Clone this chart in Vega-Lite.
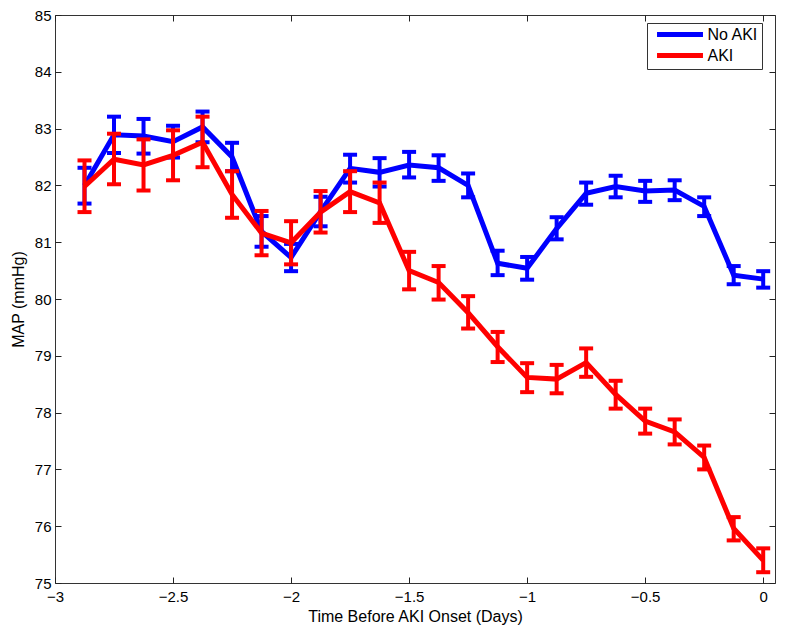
{
  "$schema": "https://vega.github.io/schema/vega-lite/v6.json",
  "width": 720,
  "height": 568,
  "autosize": {"type": "none"},
  "padding": {"left": 55, "top": 15, "right": 10, "bottom": 52},
  "background": "white",
  "config": {
    "font": "Liberation Sans",
    "view": {"stroke": "#333333", "strokeWidth": 1},
    "axis": {
      "grid": false,
      "domain": false,
      "ticks": true,
      "tickColor": "#222222",
      "tickWidth": 1,
      "labelColor": "#000000",
      "labelFontSize": 15,
      "titleFontSize": 16,
      "titleFontWeight": "normal",
      "titleColor": "#000000",
      "labelFont": "Liberation Sans",
      "titleFont": "Liberation Sans",
      "labelFlush": false
    }
  },
  "data": {
    "values": [
      {"t": -2.875, "group": "No AKI", "mean": 82.0, "lo": 81.68, "hi": 82.31},
      {"t": -2.75, "group": "No AKI", "mean": 82.89, "lo": 82.57, "hi": 83.21},
      {"t": -2.625, "group": "No AKI", "mean": 82.87, "lo": 82.56, "hi": 83.17},
      {"t": -2.5, "group": "No AKI", "mean": 82.77, "lo": 82.49, "hi": 83.05},
      {"t": -2.375, "group": "No AKI", "mean": 83.03, "lo": 82.76, "hi": 83.3},
      {"t": -2.25, "group": "No AKI", "mean": 82.5, "lo": 82.25, "hi": 82.75},
      {"t": -2.125, "group": "No AKI", "mean": 81.19, "lo": 80.92, "hi": 81.46},
      {"t": -2.0, "group": "No AKI", "mean": 80.73, "lo": 80.49, "hi": 80.97},
      {"t": -1.875, "group": "No AKI", "mean": 81.54, "lo": 81.28, "hi": 81.8},
      {"t": -1.75, "group": "No AKI", "mean": 82.3, "lo": 82.05, "hi": 82.54},
      {"t": -1.625, "group": "No AKI", "mean": 82.23, "lo": 81.98, "hi": 82.48},
      {"t": -1.5, "group": "No AKI", "mean": 82.36, "lo": 82.14, "hi": 82.59},
      {"t": -1.375, "group": "No AKI", "mean": 82.31, "lo": 82.08, "hi": 82.53},
      {"t": -1.25, "group": "No AKI", "mean": 82.0, "lo": 81.79, "hi": 82.21},
      {"t": -1.125, "group": "No AKI", "mean": 80.63, "lo": 80.42, "hi": 80.85},
      {"t": -1.0, "group": "No AKI", "mean": 80.54, "lo": 80.34, "hi": 80.74},
      {"t": -0.875, "group": "No AKI", "mean": 81.24, "lo": 81.05, "hi": 81.44},
      {"t": -0.75, "group": "No AKI", "mean": 81.86, "lo": 81.66, "hi": 82.05},
      {"t": -0.625, "group": "No AKI", "mean": 81.98, "lo": 81.79, "hi": 82.17},
      {"t": -0.5, "group": "No AKI", "mean": 81.9, "lo": 81.71, "hi": 82.08},
      {"t": -0.375, "group": "No AKI", "mean": 81.92, "lo": 81.74, "hi": 82.09},
      {"t": -0.25, "group": "No AKI", "mean": 81.63, "lo": 81.46, "hi": 81.79},
      {"t": -0.125, "group": "No AKI", "mean": 80.42, "lo": 80.26, "hi": 80.58},
      {"t": 0.0, "group": "No AKI", "mean": 80.35, "lo": 80.2, "hi": 80.49},
      {"t": -2.875, "group": "AKI", "mean": 81.98, "lo": 81.53, "hi": 82.44},
      {"t": -2.75, "group": "AKI", "mean": 82.46, "lo": 82.02, "hi": 82.91},
      {"t": -2.625, "group": "AKI", "mean": 82.36, "lo": 81.91, "hi": 82.81},
      {"t": -2.5, "group": "AKI", "mean": 82.53, "lo": 82.09, "hi": 82.97},
      {"t": -2.375, "group": "AKI", "mean": 82.76, "lo": 82.32, "hi": 83.21},
      {"t": -2.25, "group": "AKI", "mean": 81.84, "lo": 81.43, "hi": 82.25},
      {"t": -2.125, "group": "AKI", "mean": 81.16, "lo": 80.77, "hi": 81.55},
      {"t": -2.0, "group": "AKI", "mean": 80.99, "lo": 80.61, "hi": 81.37},
      {"t": -1.875, "group": "AKI", "mean": 81.53, "lo": 81.17, "hi": 81.9},
      {"t": -1.75, "group": "AKI", "mean": 81.89, "lo": 81.53, "hi": 82.25},
      {"t": -1.625, "group": "AKI", "mean": 81.69, "lo": 81.34, "hi": 82.05},
      {"t": -1.5, "group": "AKI", "mean": 80.5, "lo": 80.17, "hi": 80.83},
      {"t": -1.375, "group": "AKI", "mean": 80.29, "lo": 79.99, "hi": 80.58},
      {"t": -1.25, "group": "AKI", "mean": 79.76, "lo": 79.48, "hi": 80.05},
      {"t": -1.125, "group": "AKI", "mean": 79.16, "lo": 78.89, "hi": 79.42},
      {"t": -1.0, "group": "AKI", "mean": 78.62, "lo": 78.36, "hi": 78.87},
      {"t": -0.875, "group": "AKI", "mean": 78.59, "lo": 78.34, "hi": 78.84},
      {"t": -0.75, "group": "AKI", "mean": 78.88, "lo": 78.63, "hi": 79.13},
      {"t": -0.625, "group": "AKI", "mean": 78.32, "lo": 78.07, "hi": 78.56},
      {"t": -0.5, "group": "AKI", "mean": 77.85, "lo": 77.63, "hi": 78.07},
      {"t": -0.375, "group": "AKI", "mean": 77.66, "lo": 77.44, "hi": 77.88},
      {"t": -0.25, "group": "AKI", "mean": 77.21, "lo": 77.0, "hi": 77.42},
      {"t": -0.125, "group": "AKI", "mean": 75.96, "lo": 75.75, "hi": 76.16},
      {"t": 0.0, "group": "AKI", "mean": 75.4, "lo": 75.19, "hi": 75.61}
    ]
  },
  "resolve": {"axis": {"x": "independent", "y": "independent"}},
  "layer": [
    {
      "mark": {"type": "point", "opacity": 0},
      "encoding": {
        "x": {"field": "t", "type": "quantitative", "scale": {"domain": [-3, 0.05], "nice": false, "zero": false},
              "axis": {"orient": "bottom", "values": [-3, -2.5, -2, -1.5, -1, -0.5, 0], "format": "~g", "title": "Time Before AKI Onset (Days)", "tickSize": -6, "labelPadding": 12, "titlePadding": 4}},
        "y": {"field": "mean", "type": "quantitative", "scale": {"domain": [75, 85], "nice": false, "zero": false},
              "axis": {"orient": "left", "values": [75, 76, 77, 78, 79, 80, 81, 82, 83, 84, 85], "format": "d", "title": "MAP (mmHg)", "tickSize": -6, "labelPadding": 10, "titlePadding": 8}}
      }
    },
    {
      "mark": {"type": "point", "opacity": 0},
      "encoding": {
        "x": {"field": "t", "type": "quantitative", "axis": {"orient": "top", "values": [-3, -2.5, -2, -1.5, -1, -0.5, 0], "labels": false, "title": null, "tickSize": -6}},
        "y": {"field": "mean", "type": "quantitative", "axis": {"orient": "right", "values": [75, 76, 77, 78, 79, 80, 81, 82, 83, 84, 85], "labels": false, "title": null, "tickSize": -6}}
      }
    },
    {
      "transform": [{"filter": "datum.group === 'No AKI'"}],
      "mark": {"type": "errorbar", "color": "#0000ff", "opacity": 1, "thickness": 4, "ticks": {"size": 14, "thickness": 4, "color": "#0000ff", "opacity": 1}, "rule": {"opacity": 1, "strokeWidth": 4}},
      "encoding": {
        "x": {"field": "t", "type": "quantitative", "axis": null},
        "y": {"field": "lo", "type": "quantitative", "axis": null},
        "y2": {"field": "hi"}
      }
    },
    {
      "transform": [{"filter": "datum.group === 'No AKI'"}],
      "mark": {"type": "line", "strokeWidth": 5},
      "encoding": {
        "x": {"field": "t", "type": "quantitative", "axis": null},
        "y": {"field": "mean", "type": "quantitative", "axis": null},
        "color": {"field": "group", "type": "nominal", "scale": {"domain": ["No AKI", "AKI"], "range": ["#0000ff", "#ff0000"]},
                  "legend": {"orient": "none", "legendX": 592, "legendY": 8, "title": null, "symbolType": "M-4,0H4", "symbolStrokeWidth": 5, "symbolSize": 132, "symbolOffset": 21.5, "labelFontSize": 16, "fillColor": "white", "strokeColor": "#333333", "padding": 3, "rowPadding": 0, "labelOffset": 19, "labelColor": "#000000"}}
      }
    },
    {
      "transform": [{"filter": "datum.group === 'AKI'"}],
      "mark": {"type": "errorbar", "color": "#ff0000", "opacity": 1, "thickness": 4, "ticks": {"size": 14, "thickness": 4, "color": "#ff0000", "opacity": 1}, "rule": {"opacity": 1, "strokeWidth": 4}},
      "encoding": {
        "x": {"field": "t", "type": "quantitative", "axis": null},
        "y": {"field": "lo", "type": "quantitative", "axis": null},
        "y2": {"field": "hi"}
      }
    },
    {
      "transform": [{"filter": "datum.group === 'AKI'"}],
      "mark": {"type": "line", "strokeWidth": 5},
      "encoding": {
        "x": {"field": "t", "type": "quantitative", "axis": null},
        "y": {"field": "mean", "type": "quantitative", "axis": null},
        "color": {"field": "group", "type": "nominal", "scale": {"domain": ["No AKI", "AKI"], "range": ["#0000ff", "#ff0000"]}}
      }
    }
  ]
}
